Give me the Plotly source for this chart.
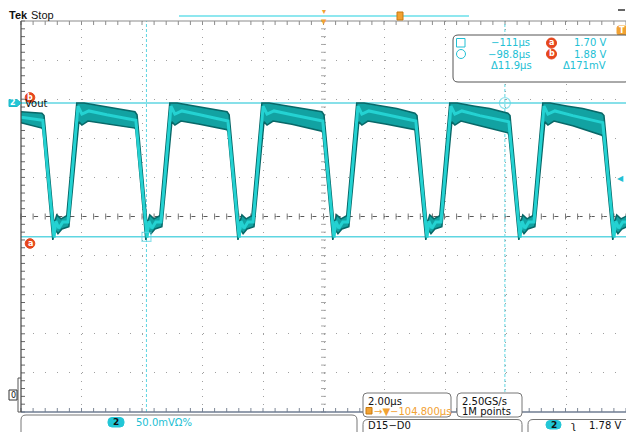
import plotly.graph_objects as go

# ---------------- data (time in µs, voltage in V) ----------------
upper_t = [
    -114.80,
    -114.11, -114.04, -113.71, -113.62, -113.48, -113.29, -112.96, -112.72, -112.13, -111.64,
    -111.04, -110.97, -110.64, -110.55, -110.41, -110.22, -109.89, -109.65, -109.06, -108.57,
    -108.00, -107.93, -107.60, -107.51, -107.37, -107.18, -106.85, -106.61, -106.02, -105.53,
    -104.87, -104.80, -104.47, -104.38, -104.24, -104.05, -103.72, -103.48, -102.89, -102.40,
    -101.80, -101.73, -101.40, -101.31, -101.17, -100.98, -100.65, -100.41, -99.82, -99.33,
    -98.73, -98.66, -98.33, -98.24, -98.10, -97.91, -97.58, -97.34, -96.75, -96.26,
    -95.63, -95.56, -95.23, -95.14, -95.00, -94.80,
]
upper_v = [
    1.869,
    1.867, 1.864, 1.725, 1.737, 1.732, 1.736, 1.880, 1.880, 1.876, 1.873,
    1.869, 1.865, 1.725, 1.737, 1.732, 1.736, 1.880, 1.880, 1.876, 1.873,
    1.869, 1.865, 1.725, 1.737, 1.732, 1.736, 1.880, 1.880, 1.876, 1.873,
    1.869, 1.865, 1.725, 1.737, 1.732, 1.736, 1.880, 1.880, 1.876, 1.873,
    1.867, 1.864, 1.725, 1.737, 1.732, 1.736, 1.880, 1.880, 1.876, 1.873,
    1.867, 1.864, 1.725, 1.737, 1.732, 1.736, 1.880, 1.880, 1.876, 1.873,
    1.867, 1.864, 1.725, 1.737, 1.732, 1.736,
]
lower_t = [
    -114.80,
    -114.11, -114.08, -113.75, -113.68, -113.58, -113.45, -113.22, -112.89, -112.79, -112.59, -111.97,
    -111.04, -111.01, -110.68, -110.61, -110.51, -110.38, -110.15, -109.82, -109.72, -109.52, -108.90,
    -108.00, -107.97, -107.64, -107.57, -107.47, -107.34, -107.11, -106.78, -106.68, -106.48, -105.86,
    -104.87, -104.84, -104.51, -104.44, -104.34, -104.21, -103.98, -103.65, -103.55, -103.35, -102.73,
    -101.80, -101.77, -101.44, -101.37, -101.27, -101.14, -100.91, -100.58, -100.48, -100.28, -99.66,
    -98.73, -98.70, -98.37, -98.30, -98.20, -98.07, -97.84, -97.51, -97.41, -97.21, -96.59,
    -95.63, -95.60, -95.27, -95.20, -95.10, -94.97, -94.80,
]
lower_v = [
    1.855,
    1.848, 1.846, 1.705, 1.719, 1.713, 1.719, 1.722, 1.856, 1.852, 1.857, 1.853,
    1.848, 1.846, 1.705, 1.719, 1.713, 1.719, 1.722, 1.856, 1.852, 1.857, 1.853,
    1.846, 1.843, 1.705, 1.719, 1.713, 1.719, 1.722, 1.856, 1.852, 1.857, 1.853,
    1.844, 1.842, 1.705, 1.719, 1.713, 1.719, 1.722, 1.856, 1.852, 1.857, 1.853,
    1.846, 1.843, 1.705, 1.719, 1.713, 1.719, 1.722, 1.856, 1.852, 1.857, 1.851,
    1.842, 1.839, 1.705, 1.719, 1.713, 1.719, 1.722, 1.856, 1.852, 1.857, 1.851,
    1.839, 1.837, 1.705, 1.719, 1.713, 1.719, 1.722,
]
center_t = [
    -114.80,
    -114.08, -113.71, -113.65, -113.55, -113.42, -113.25, -112.92, -112.79, -112.56, -111.97,
    -111.01, -110.64, -110.58, -110.48, -110.35, -110.18, -109.85, -109.72, -109.49, -108.90,
    -107.97, -107.60, -107.54, -107.44, -107.31, -107.14, -106.81, -106.68, -106.45, -105.86,
    -104.84, -104.47, -104.41, -104.31, -104.18, -104.01, -103.68, -103.55, -103.32, -102.73,
    -101.77, -101.40, -101.34, -101.24, -101.11, -100.94, -100.61, -100.48, -100.25, -99.66,
    -98.70, -98.33, -98.27, -98.17, -98.04, -97.87, -97.54, -97.41, -97.18, -96.59,
    -95.60, -95.23, -95.17, -95.07, -94.94, -94.80,
]
center_v = [
    1.862,
    1.858, 1.708, 1.729, 1.720, 1.728, 1.728, 1.876, 1.866, 1.870, 1.865,
    1.858, 1.708, 1.729, 1.720, 1.728, 1.728, 1.876, 1.866, 1.870, 1.865,
    1.857, 1.708, 1.729, 1.720, 1.728, 1.728, 1.876, 1.866, 1.870, 1.865,
    1.857, 1.708, 1.729, 1.720, 1.728, 1.728, 1.876, 1.866, 1.870, 1.865,
    1.857, 1.708, 1.729, 1.720, 1.728, 1.728, 1.876, 1.866, 1.870, 1.864,
    1.856, 1.708, 1.729, 1.720, 1.728, 1.728, 1.876, 1.866, 1.870, 1.864,
    1.855, 1.708, 1.729, 1.720, 1.728, 1.728,
]
cursor_t = [-110.66, -98.83]     # vertical cursors (µs)
cursor_v = [1.709, 1.880]        # horizontal cursors a, b (V)
trig_level = [1.783]
x_range = [-114.8, -94.833]
y_range = [1.485, 1.985]

# ---------------- layout helpers ----------------
W, H = 626, 432
L, T, B = 21, 21, 20
PW, PH = W - L, H - T - B


def px(x):
    return (x - L) / PW


def py(y):
    return (H - B - y) / PH


CYAN_T = '#24d2d2'
MID_T = '#12a2a2'
DARK_T = '#086868'
CUR = '#5fd6e2'
TXT_C = '#22c0d4'
ORANGE = '#f2a233'
RED = '#e6461c'
BLACK = '#111111'
FONT = 'DejaVu Sans'

fig = go.Figure()
fig.add_trace(go.Scatter(x=upper_t + lower_t[::-1], y=upper_v + lower_v[::-1],
                         fill='toself', fillcolor=MID_T, mode='lines',
                         line=dict(color=DARK_T, width=1.5), hoverinfo='skip', showlegend=False))
fig.add_trace(go.Scatter(x=center_t, y=center_v, mode='lines',
                         line=dict(color=CYAN_T, width=3), hoverinfo='skip', showlegend=False))
fig.add_trace(go.Scatter(x=cursor_t, y=cursor_v, mode='markers',
                         marker=dict(symbol=['square-open', 'circle-open'], size=[9, 11], color=CUR,
                                     line=dict(width=1.2)),
                         hoverinfo='skip', showlegend=False))

shapes = []
ann = []


def line_px(x0, y0, x1, y1, color, width=1, dash=None, layer='above'):
    d = dict(type='line', xref='paper', yref='paper', x0=px(x0), y0=py(y0), x1=px(x1), y1=py(y1),
             line=dict(color=color, width=width), layer=layer)
    if dash:
        d['line']['dash'] = dash
    shapes.append(d)


def rrect(x0, y0, x1, y1, r, line='#666666', fill='rgba(0,0,0,0)', width=1):
    X, Y = px, py
    p = (f"M {X(x0 + r)},{Y(y0)} L {X(x1 - r)},{Y(y0)} Q {X(x1)},{Y(y0)} {X(x1)},{Y(y0 + r)} "
         f"L {X(x1)},{Y(y1 - r)} Q {X(x1)},{Y(y1)} {X(x1 - r)},{Y(y1)} L {X(x0 + r)},{Y(y1)} "
         f"Q {X(x0)},{Y(y1)} {X(x0)},{Y(y1 - r)} L {X(x0)},{Y(y0 + r)} Q {X(x0)},{Y(y0)} {X(x0 + r)},{Y(y0)} Z")
    shapes.append(dict(type='path', xref='paper', yref='paper', path=p,
                       line=dict(color=line, width=width), fillcolor=fill, layer='above'))


def circ(cx, cy, r, line, fill='rgba(0,0,0,0)', width=1):
    shapes.append(dict(type='circle', xref='paper', yref='paper', x0=px(cx - r), x1=px(cx + r),
                       y0=py(cy + r), y1=py(cy - r), line=dict(color=line, width=width),
                       fillcolor=fill, layer='above'))


def rect(x0, y0, x1, y1, line, fill='rgba(0,0,0,0)', width=1):
    shapes.append(dict(type='rect', xref='paper', yref='paper', x0=px(x0), x1=px(x1),
                       y0=py(y1), y1=py(y0), line=dict(color=line, width=width),
                       fillcolor=fill, layer='above'))


def txt(x, y, s, size=10, color=BLACK, anchor='left', family=FONT):
    ann.append(dict(x=px(x), y=py(y), xref='paper', yref='paper', text=s, showarrow=False,
                    xanchor=anchor, yanchor='middle', borderpad=0,
                    font=dict(size=size, color=color, family=family)))


# ---- graticule: center crosshair and border ticks ----
shapes.append(dict(type='line', xref='paper', yref='paper', x0=0, x1=1, y0=0.5, y1=0.5,
                   line=dict(color='#5a5a5a', width=1, dash='5px,7.1px'), layer='between'))
for k in range(51):
    f = k / 50
    shapes.append(dict(type='line', xref='paper', yref='paper', x0=f, x1=f,
                       y0=0.5 - 3 / PH, y1=0.5 + 3 / PH, line=dict(color='#777777', width=1), layer='between'))
    shapes.append(dict(type='line', xref='paper', yref='paper', x0=0.5 - 2.5 / PW, x1=0.5 + 2.5 / PW,
                       y0=f, y1=f, line=dict(color='#a8a8a8', width=1), layer='between'))
    shapes.append(dict(type='line', xref='paper', yref='paper', x0=f, x1=f, y0=1, y1=1 - 4 / PH,
                       line=dict(color='#8c8c8c', width=1), layer='between'))
    shapes.append(dict(type='line', xref='paper', yref='paper', x0=f, x1=f, y0=0, y1=4 / PH,
                       line=dict(color='#7d8796', width=1), layer='between'))
    shapes.append(dict(type='line', xref='paper', yref='paper', x0=0, x1=4 / PW, y0=f, y1=f,
                       line=dict(color='#666666', width=1), layer='between'))
shapes.append(dict(type='line', xref='paper', yref='paper', x0=0, x1=1, y0=1, y1=1,
                   line=dict(color='#8c8c8c', width=1.2), layer='above'))
shapes.append(dict(type='line', xref='paper', yref='paper', x0=0, x1=1, y0=0, y1=0,
                   line=dict(color='#6f7c92', width=1.5), layer='above'))
shapes.append(dict(type='line', xref='paper', yref='paper', x0=0, x1=0, y0=0, y1=1,
                   line=dict(color='#444444', width=1.2), layer='above'))

# ---- cursors ----
for t in cursor_t:
    shapes.append(dict(type='line', xref='x', yref='paper', x0=t, x1=t, y0=0, y1=1,
                       line=dict(color=CUR, width=1, dash='3px,2px'), layer='between'))
for v in cursor_v:
    shapes.append(dict(type='line', xref='paper', yref='y', x0=0, x1=1, y0=v, y1=v,
                       line=dict(color=CUR, width=1.5), layer='between'))
ann.append(dict(x=1, y=trig_level[0], xref='paper', yref='y', text='◀', showarrow=False,
                xanchor='right', yanchor='middle', font=dict(size=8, color=TXT_C, family=FONT)))

# ---- top bar ----
txt(8, 15, '<b>Tek</b>', size=11, family='Liberation Sans')
txt(30, 15, 'Stop', size=11, family='Liberation Sans')
line_px(179, 16, 469, 16, '#8fe7ef', width=2)
txt(324, 12, '▾', size=8, color=ORANGE, anchor='center')
txt(324, 22, '▼', size=7, color=ORANGE, anchor='center')
rect(397, 12, 403, 20, '#c77a10', fill=ORANGE)
line_px(618, 10, 625, 10, '#333333', width=1.5)
rrect(617, 26, 628, 35, 2, line=ORANGE, fill=ORANGE)
txt(622, 30.5, '<b>T</b>', size=8, color='white', anchor='center')

# ---- readout box ----
rrect(453, 35, 630, 82, 5, line='#555555', fill='white')
rect(456.5, 38.5, 465, 47, TXT_C)
circ(461, 54, 4.5, TXT_C)
txt(531, 43, '−111µs', color=TXT_C, anchor='right')
txt(531, 54, '−98.8µs', color=TXT_C, anchor='right')
txt(533, 65, 'Δ11.9µs', color=TXT_C, anchor='right')
for yy, s in ((43, 'a'), (54, 'b')):
    circ(551.5, yy, 5, RED, fill=RED)
    txt(551.5, yy - 0.5, '<b>' + s + '</b>', size=8, color='white', anchor='center')
txt(607, 43, '1.70 V', color=TXT_C, anchor='right')
txt(607, 54, '1.88 V', color=TXT_C, anchor='right')
txt(607, 65, 'Δ171mV', color=TXT_C, anchor='right')

# ---- left labels ----
shapes.append(dict(type='path', xref='paper', yref='paper', layer='above',
                   path=f"M {px(9)},{py(99.5)} L {px(17)},{py(99.5)} L {px(21)},{py(103)} "
                        f"L {px(17)},{py(106.5)} L {px(9)},{py(106.5)} Z",
                   line=dict(color='#1fb8c8', width=1), fillcolor='#22c6d6'))
txt(13, 103, '<b>2</b>', size=8, color='white', anchor='center')
txt(24, 103.5, 'Vout', size=10)
circ(30, 97.5, 4.8, RED, fill=RED)
txt(30, 97, '<b>b</b>', size=8, color='white', anchor='center')
circ(30, 243.5, 4.8, RED, fill=RED)
txt(30, 243, '<b>a</b>', size=8, color='white', anchor='center')

line_px(18, 378, 18, 412, '#555555')
line_px(18, 378, 21, 378, '#555555')
line_px(18, 412, 21, 412, '#555555')
rect(9, 390, 17, 400, '#333333', fill='white')
txt(13, 395, '0', size=8, anchor='center')

# ---- bottom panels ----
rrect(21, 415, 357, 446, 5, line='#777777')
rrect(108, 417.5, 124, 427, 4, line='#22c6d6', fill='#22c6d6')
txt(116, 422.2, '<b>2</b>', size=9, anchor='center')
txt(135, 422, '50.0mVΩ%', size=10, color=TXT_C)

rrect(363, 393, 451, 417, 4, line='#777777', fill='white')
txt(367, 401, '2.00µs', size=10)
rect(366, 407.5, 372, 414, '#c77a10', fill=ORANGE)
txt(373, 411, '→▼−104.800µs', size=10, color=ORANGE)

rrect(457, 393, 522, 417, 4, line='#777777', fill='white')
txt(461, 401, '2.50GS/s', size=10)
txt(461, 411, '1M points', size=10)

rrect(363, 419.5, 522, 446, 5, line='#777777')
txt(367, 425, 'D15−D0', size=10)

rrect(528, 419.5, 640, 446, 5, line='#777777')
rrect(546, 420.5, 561, 429, 4, line='#22c6d6', fill='#22c6d6')
txt(553.5, 424.8, '<b>2</b>', size=9, anchor='center')
txt(573, 425, 'ʅ', size=11, anchor='center')
txt(622, 425, '1.78 V', size=10, anchor='right')

fig.update_layout(
    width=W, height=H, autosize=False,
    margin=dict(l=L, r=0, t=T, b=B, pad=0),
    paper_bgcolor='white', plot_bgcolor='white',
    showlegend=False,
    xaxis=dict(range=x_range, showgrid=True, tick0=-114.8, dtick=2, gridcolor='#a0a0a0', gridwidth=1,
               griddash='1px,6.82px', zeroline=False, showticklabels=False, ticks='', showline=False,
               fixedrange=True),
    yaxis=dict(range=y_range, showgrid=True, tick0=1.485, dtick=0.05, gridcolor='#a0a0a0', gridwidth=1,
               griddash='1px,11.12px', zeroline=False, showticklabels=False, ticks='', showline=False,
               fixedrange=True),
    shapes=shapes, annotations=ann,
)

fig.write_html("out.html", config={'displayModeBar': False},
               post_script="document.body.style.margin='0';document.body.style.overflow='hidden';")
